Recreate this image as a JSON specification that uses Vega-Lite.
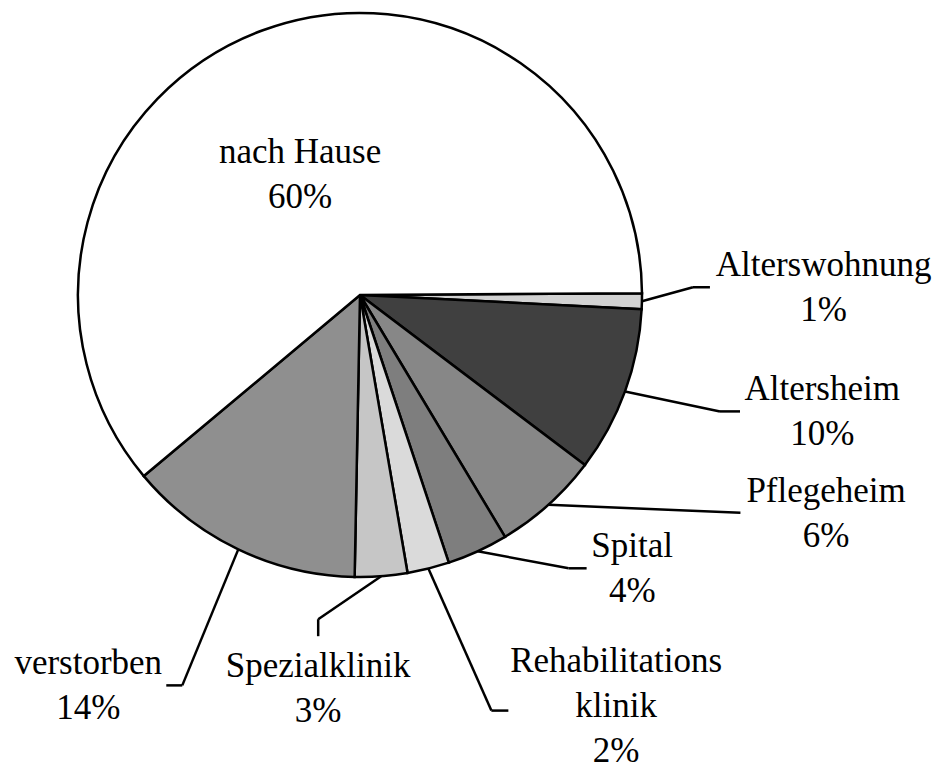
{
  "$schema": "https://vega.github.io/schema/vega-lite/v6.json",
  "width": 720,
  "height": 590,
  "autosize": {"type": "none"},
  "padding": {"left": 0, "top": 0, "right": 217, "bottom": 181},
  "background": "white",
  "config": {"view": {"stroke": null}},
  "data": {
    "values": [
      {"category": "Alterswohnung", "label": "Alterswohnung\n1%", "value": 0.9},
      {"category": "Altersheim", "label": "Altersheim\n10%", "value": 9.5},
      {"category": "Pflegeheim", "label": "Pflegeheim\n6%", "value": 6.1},
      {"category": "Spital", "label": "Spital\n4%", "value": 3.5},
      {"category": "Rehabilitationsklinik", "label": "Rehabilitations\nklinik\n2%", "value": 2.4},
      {"category": "Spezialklinik", "label": "Spezialklinik\n3%", "value": 3.0},
      {"category": "verstorben", "label": "verstorben\n14%", "value": 13.6},
      {"category": "nach Hause", "label": "nach Hause\n60%", "value": 61.0}
    ]
  },
  "transform": [
    {"stack": "value", "groupby": [], "as": ["start", "end"]},
    {"calculate": "(datum.start + datum.end) / 2", "as": "mid"},
    {"calculate": "282 * sin(1.56469 + datum.mid * PI / 50)", "as": "ex"},
    {"calculate": "282 * cos(1.56469 + datum.mid * PI / 50)", "as": "ey"}
  ],
  "layer": [
    {
      "mark": {"type": "arc", "radius": 282, "stroke": "black", "strokeWidth": 2.5},
      "encoding": {
        "theta": {"field": "start", "type": "quantitative", "stack": null, "scale": {"domain": [0, 100], "range": [1.56469, 7.84787]}},
        "theta2": {"field": "end"},
        "color": {
          "field": "category", "type": "nominal", "legend": null,
          "scale": {
            "domain": ["Alterswohnung", "Altersheim", "Pflegeheim", "Spital", "Rehabilitationsklinik", "Spezialklinik", "verstorben", "nach Hause"],
            "range": ["#d2d2d2", "#404040", "#878787", "#7e7e7e", "#dadada", "#c6c6c6", "#8f8f8f", "#ffffff"]
          }
        }
      }
    },
    {
      "transform": [{"filter": "datum.category === 'nach Hause'"}],
      "mark": {"type": "text", "radius": 145, "thetaOffset": -0.0742, "font": "Liberation Serif", "fontSize": 35, "lineHeight": 45, "lineBreak": "\n", "align": "center", "baseline": "alphabetic", "color": "black"},
      "encoding": {
        "theta": {"field": "mid", "type": "quantitative", "stack": null, "scale": {"domain": [0, 100], "range": [1.56469, 7.84787]}},
        "text": {"field": "label"}
      }
    },
    {
      "transform": [{"filter": "datum.category === 'Alterswohnung'"}],
      "layer": [
        {
          "mark": {"type": "text", "radius": 464, "thetaOffset": -0.0630, "font": "Liberation Serif", "fontSize": 35, "lineHeight": 45, "lineBreak": "\n", "align": "center", "baseline": "alphabetic", "color": "black"},
          "encoding": {
            "theta": {"field": "mid", "type": "quantitative", "stack": null, "scale": {"domain": [0, 100], "range": [1.56469, 7.84787]}},
            "text": {"field": "label"}
          }
        },
        {
          "mark": {"type": "rule", "color": "black", "strokeWidth": 2.5, "x2Offset": 51, "y2Offset": -14},
          "encoding": {
            "x": {"field": "ex", "type": "quantitative", "axis": null, "scale": {"domain": [-360, 360], "nice": false, "zero": false}},
            "y": {"field": "ey", "type": "quantitative", "axis": null, "scale": {"domain": [-295, 295], "nice": false, "zero": false}},
            "x2": {"field": "ex"},
            "y2": {"field": "ey"}
          }
        },
        {
          "mark": {"type": "rule", "color": "black", "strokeWidth": 2.5, "xOffset": 51, "yOffset": -14, "x2Offset": 68, "y2Offset": -14},
          "encoding": {
            "x": {"field": "ex", "type": "quantitative", "axis": null, "scale": {"domain": [-360, 360], "nice": false, "zero": false}},
            "y": {"field": "ey", "type": "quantitative", "axis": null, "scale": {"domain": [-295, 295], "nice": false, "zero": false}},
            "x2": {"field": "ex"},
            "y2": {"field": "ey"}
          }
        }
      ]
    },
    {
      "transform": [{"filter": "datum.category === 'Altersheim'"}],
      "layer": [
        {
          "mark": {"type": "text", "radius": 474, "thetaOffset": -0.1255, "font": "Liberation Serif", "fontSize": 35, "lineHeight": 45, "lineBreak": "\n", "align": "center", "baseline": "alphabetic", "color": "black"},
          "encoding": {
            "theta": {"field": "mid", "type": "quantitative", "stack": null, "scale": {"domain": [0, 100], "range": [1.56469, 7.84787]}},
            "text": {"field": "label"}
          }
        },
        {
          "mark": {"type": "rule", "color": "black", "strokeWidth": 2.5, "x2Offset": 95, "y2Offset": 20},
          "encoding": {
            "x": {"field": "ex", "type": "quantitative", "axis": null, "scale": {"domain": [-360, 360], "nice": false, "zero": false}},
            "y": {"field": "ey", "type": "quantitative", "axis": null, "scale": {"domain": [-295, 295], "nice": false, "zero": false}},
            "x2": {"field": "ex"},
            "y2": {"field": "ey"}
          }
        },
        {
          "mark": {"type": "rule", "color": "black", "strokeWidth": 2.5, "xOffset": 95, "yOffset": 20, "x2Offset": 115, "y2Offset": 20},
          "encoding": {
            "x": {"field": "ex", "type": "quantitative", "axis": null, "scale": {"domain": [-360, 360], "nice": false, "zero": false}},
            "y": {"field": "ey", "type": "quantitative", "axis": null, "scale": {"domain": [-295, 295], "nice": false, "zero": false}},
            "x2": {"field": "ex"},
            "y2": {"field": "ey"}
          }
        }
      ]
    },
    {
      "transform": [{"filter": "datum.category === 'Pflegeheim'"}],
      "layer": [
        {
          "mark": {"type": "text", "radius": 510, "thetaOffset": -0.4210, "font": "Liberation Serif", "fontSize": 35, "lineHeight": 45, "lineBreak": "\n", "align": "center", "baseline": "alphabetic", "color": "black"},
          "encoding": {
            "theta": {"field": "mid", "type": "quantitative", "stack": null, "scale": {"domain": [0, 100], "range": [1.56469, 7.84787]}},
            "text": {"field": "label"}
          }
        },
        {
          "mark": {"type": "rule", "color": "black", "strokeWidth": 2.5, "x2Offset": 192, "y2Offset": 8},
          "encoding": {
            "x": {"field": "ex", "type": "quantitative", "axis": null, "scale": {"domain": [-360, 360], "nice": false, "zero": false}},
            "y": {"field": "ey", "type": "quantitative", "axis": null, "scale": {"domain": [-295, 295], "nice": false, "zero": false}},
            "x2": {"field": "ex"},
            "y2": {"field": "ey"}
          }
        }
      ]
    },
    {
      "transform": [{"filter": "datum.category === 'Spital'"}],
      "layer": [
        {
          "mark": {"type": "text", "radius": 378, "thetaOffset": -0.3738, "font": "Liberation Serif", "fontSize": 35, "lineHeight": 45, "lineBreak": "\n", "align": "center", "baseline": "alphabetic", "color": "black"},
          "encoding": {
            "theta": {"field": "mid", "type": "quantitative", "stack": null, "scale": {"domain": [0, 100], "range": [1.56469, 7.84787]}},
            "text": {"field": "label"}
          }
        },
        {
          "mark": {"type": "rule", "color": "black", "strokeWidth": 2.5, "x2Offset": 91, "y2Offset": 17},
          "encoding": {
            "x": {"field": "ex", "type": "quantitative", "axis": null, "scale": {"domain": [-360, 360], "nice": false, "zero": false}},
            "y": {"field": "ey", "type": "quantitative", "axis": null, "scale": {"domain": [-295, 295], "nice": false, "zero": false}},
            "x2": {"field": "ex"},
            "y2": {"field": "ey"}
          }
        },
        {
          "mark": {"type": "rule", "color": "black", "strokeWidth": 2.5, "xOffset": 91, "yOffset": 17, "x2Offset": 109, "y2Offset": 17},
          "encoding": {
            "x": {"field": "ex", "type": "quantitative", "axis": null, "scale": {"domain": [-360, 360], "nice": false, "zero": false}},
            "y": {"field": "ey", "type": "quantitative", "axis": null, "scale": {"domain": [-295, 295], "nice": false, "zero": false}},
            "x2": {"field": "ex"},
            "y2": {"field": "ey"}
          }
        }
      ]
    },
    {
      "transform": [{"filter": "datum.category === 'Rehabilitationsklinik'"}],
      "layer": [
        {
          "mark": {"type": "text", "radius": 456, "thetaOffset": -0.3515, "font": "Liberation Serif", "fontSize": 35, "lineHeight": 45, "lineBreak": "\n", "align": "center", "baseline": "alphabetic", "color": "black"},
          "encoding": {
            "theta": {"field": "mid", "type": "quantitative", "stack": null, "scale": {"domain": [0, 100], "range": [1.56469, 7.84787]}},
            "text": {"field": "label"}
          }
        },
        {
          "mark": {"type": "rule", "color": "black", "strokeWidth": 2.5, "x2Offset": 63, "y2Offset": 142},
          "encoding": {
            "x": {"field": "ex", "type": "quantitative", "axis": null, "scale": {"domain": [-360, 360], "nice": false, "zero": false}},
            "y": {"field": "ey", "type": "quantitative", "axis": null, "scale": {"domain": [-295, 295], "nice": false, "zero": false}},
            "x2": {"field": "ex"},
            "y2": {"field": "ey"}
          }
        },
        {
          "mark": {"type": "rule", "color": "black", "strokeWidth": 2.5, "xOffset": 63, "yOffset": 142, "x2Offset": 80, "y2Offset": 142},
          "encoding": {
            "x": {"field": "ex", "type": "quantitative", "axis": null, "scale": {"domain": [-360, 360], "nice": false, "zero": false}},
            "y": {"field": "ey", "type": "quantitative", "axis": null, "scale": {"domain": [-295, 295], "nice": false, "zero": false}},
            "x2": {"field": "ex"},
            "y2": {"field": "ey"}
          }
        }
      ]
    },
    {
      "transform": [{"filter": "datum.category === 'Spezialklinik'"}],
      "layer": [
        {
          "mark": {"type": "text", "radius": 384, "thetaOffset": 0.1847, "font": "Liberation Serif", "fontSize": 35, "lineHeight": 45, "lineBreak": "\n", "align": "center", "baseline": "alphabetic", "color": "black"},
          "encoding": {
            "theta": {"field": "mid", "type": "quantitative", "stack": null, "scale": {"domain": [0, 100], "range": [1.56469, 7.84787]}},
            "text": {"field": "label"}
          }
        },
        {
          "mark": {"type": "rule", "color": "black", "strokeWidth": 2.5, "x2Offset": -63, "y2Offset": 43},
          "encoding": {
            "x": {"field": "ex", "type": "quantitative", "axis": null, "scale": {"domain": [-360, 360], "nice": false, "zero": false}},
            "y": {"field": "ey", "type": "quantitative", "axis": null, "scale": {"domain": [-295, 295], "nice": false, "zero": false}},
            "x2": {"field": "ex"},
            "y2": {"field": "ey"}
          }
        },
        {
          "mark": {"type": "rule", "color": "black", "strokeWidth": 2.5, "xOffset": -63, "yOffset": 43, "x2Offset": -63, "y2Offset": 60},
          "encoding": {
            "x": {"field": "ex", "type": "quantitative", "axis": null, "scale": {"domain": [-360, 360], "nice": false, "zero": false}},
            "y": {"field": "ey", "type": "quantitative", "axis": null, "scale": {"domain": [-295, 295], "nice": false, "zero": false}},
            "x2": {"field": "ex"},
            "y2": {"field": "ey"}
          }
        }
      ]
    },
    {
      "transform": [{"filter": "datum.category === 'verstorben'"}],
      "layer": [
        {
          "mark": {"type": "text", "radius": 466, "thetaOffset": 0.1763, "font": "Liberation Serif", "fontSize": 35, "lineHeight": 45, "lineBreak": "\n", "align": "center", "baseline": "alphabetic", "color": "black"},
          "encoding": {
            "theta": {"field": "mid", "type": "quantitative", "stack": null, "scale": {"domain": [0, 100], "range": [1.56469, 7.84787]}},
            "text": {"field": "label"}
          }
        },
        {
          "mark": {"type": "rule", "color": "black", "strokeWidth": 2.5, "x2Offset": -56, "y2Offset": 136},
          "encoding": {
            "x": {"field": "ex", "type": "quantitative", "axis": null, "scale": {"domain": [-360, 360], "nice": false, "zero": false}},
            "y": {"field": "ey", "type": "quantitative", "axis": null, "scale": {"domain": [-295, 295], "nice": false, "zero": false}},
            "x2": {"field": "ex"},
            "y2": {"field": "ey"}
          }
        },
        {
          "mark": {"type": "rule", "color": "black", "strokeWidth": 2.5, "xOffset": -56, "yOffset": 136, "x2Offset": -72, "y2Offset": 136},
          "encoding": {
            "x": {"field": "ex", "type": "quantitative", "axis": null, "scale": {"domain": [-360, 360], "nice": false, "zero": false}},
            "y": {"field": "ey", "type": "quantitative", "axis": null, "scale": {"domain": [-295, 295], "nice": false, "zero": false}},
            "x2": {"field": "ex"},
            "y2": {"field": "ey"}
          }
        }
      ]
    }
  ]
}
